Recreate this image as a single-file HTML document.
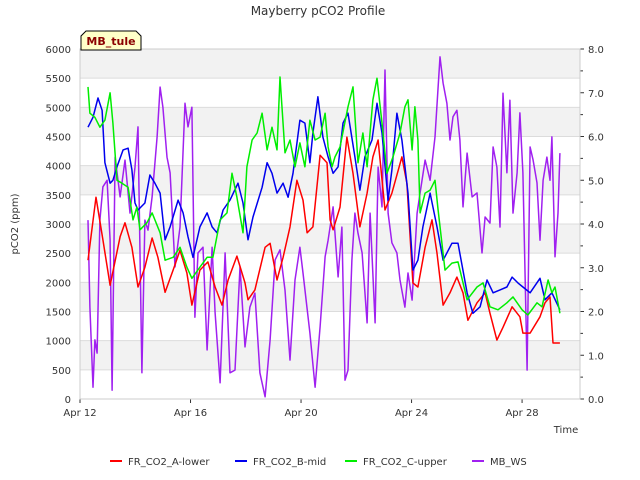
<!DOCTYPE html>
<html><head><meta charset="utf-8"><style>
body{margin:0;background:#fff;}
svg{display:block;font-family:"DejaVu Sans","Liberation Sans",sans-serif;}
</style></head><body>
<svg id="chart" width="640" height="480" viewBox="0 0 640 480">
<text x="318" y="15" text-anchor="middle" font-size="12" fill="#333">Mayberry pCO2 Profile</text>
<g id="bands"></g>
<g id="axes"></g>
<g id="series"></g>
<g>
<path d="M81,50 L81,36 L86,31 L136,31 L141,36 L141,50 Z" fill="#ffffc8" stroke="#000" stroke-width="1"/>
<text x="111" y="45" text-anchor="middle" font-size="11" font-weight="bold" fill="#8b0000">MB_tule</text>
</g>
<text transform="translate(18,224) rotate(-90)" text-anchor="middle" font-size="10" fill="#333">pCO2 (ppm)</text>
<text x="566" y="433" text-anchor="middle" font-size="10" fill="#333">Time</text>
<g id="legend"></g>
</svg>
<script>
const xTickLabels=["Apr 12","Apr 16","Apr 20","Apr 24","Apr 28"];
const xTickDays=[0,4,8,12,16];
const yTicks=[0,500,1000,1500,2000,2500,3000,3500,4000,4500,5000,5500,6000];
const y2Ticks=[0,1,2,3,4,5,6,7,8];
const seriesNames=["FR_CO2_A-lower","FR_CO2_B-mid","FR_CO2_C-upper","MB_WS"];
const seriesColors=["#ff0000","#0000ee","#00ee00","#a020f0"];

const tA=[0.29,0.58,0.83,1.09,1.45,1.63,1.88,2.10,2.35,2.61,2.82,3.08,3.37,3.62,3.87,4.05,4.34,4.63,4.89,5.14,5.36,5.68,5.97,6.08,6.33,6.70,6.88,7.13,7.35,7.60,7.85,8.07,8.22,8.43,8.69,8.94,9.05,9.16,9.41,9.66,9.88,10.13,10.39,10.60,10.79,11.04,11.29,11.65,11.83,12.05,12.23,12.49,12.74,12.92,13.14,13.39,13.64,13.86,14.04,14.37,14.66,14.84,15.09,15.31,15.64,15.92,16.03,16.29,16.65,16.83,17.01,17.12,17.37];
const vA=[2380,3460,2730,1950,2780,3020,2600,1920,2260,2760,2430,1830,2210,2550,2160,1610,2210,2350,1920,1610,2040,2450,1990,1700,1870,2600,2670,2040,2430,2950,3750,3410,2850,2950,4180,4050,3070,2900,3290,4490,3870,2950,3530,4150,4440,3240,3530,4150,3700,1990,1920,2600,3070,2500,1610,1820,2090,1820,1350,1650,1820,1470,1010,1230,1580,1410,1130,1130,1410,1650,1750,960,960];

const tB=[0.29,0.47,0.65,0.80,0.90,1.09,1.19,1.34,1.56,1.74,1.88,1.99,2.10,2.35,2.53,2.71,2.90,3.08,3.26,3.55,3.73,3.91,4.09,4.34,4.60,4.78,4.96,5.18,5.43,5.72,5.90,6.08,6.26,6.59,6.77,6.95,7.13,7.35,7.53,7.71,7.96,8.14,8.32,8.43,8.61,8.79,8.98,9.16,9.34,9.52,9.70,9.95,10.13,10.31,10.57,10.75,10.93,11.15,11.29,11.47,11.65,11.87,12.05,12.23,12.41,12.67,12.92,13.14,13.46,13.68,14.01,14.22,14.48,14.73,14.95,15.20,15.45,15.64,15.85,16.03,16.29,16.65,16.83,17.08,17.37];
const vB=[4660,4830,5160,4950,4050,3700,3750,3980,4270,4300,3930,3360,3240,3360,3840,3700,3530,2730,2950,3410,3190,2780,2430,2950,3190,2950,2850,3240,3410,3700,3360,2730,3120,3630,4050,3870,3530,3700,3460,3870,4780,4730,4050,4560,5180,4490,4150,3870,3980,4730,4900,4150,3580,4150,4440,5070,4560,3410,3930,4900,4440,3530,2210,2380,2950,3530,2950,2380,2670,2670,1820,1470,1580,2040,1820,1870,1920,2090,1990,1920,1820,2070,1700,1820,1530];

const tC=[0.29,0.36,0.54,0.72,0.90,1.09,1.19,1.34,1.52,1.74,1.92,2.06,2.17,2.42,2.61,2.90,3.08,3.37,3.62,3.87,4.05,4.34,4.60,4.81,5.07,5.32,5.50,5.68,5.90,6.04,6.23,6.41,6.59,6.77,6.95,7.13,7.24,7.42,7.60,7.78,7.96,8.14,8.32,8.51,8.69,8.87,8.98,9.12,9.23,9.41,9.70,9.88,10.06,10.24,10.39,10.60,10.75,10.93,11.11,11.33,11.58,11.76,11.87,12.02,12.12,12.23,12.31,12.49,12.67,12.85,12.96,13.21,13.46,13.68,14.01,14.37,14.59,14.84,15.13,15.45,15.67,16.00,16.21,16.54,16.72,16.94,17.08,17.19,17.37];
const vC=[5350,4900,4830,4660,4780,5250,4730,3750,3700,3630,3070,3290,2900,3020,3190,2850,2380,2430,2600,2260,2070,2260,2430,2430,3070,3190,3870,3460,2850,3980,4440,4560,4900,4270,4660,4270,5520,4220,4440,3980,4390,3980,4780,4440,4490,4900,4320,3980,4150,4320,5010,5350,4050,4560,3980,5130,5500,4730,3870,4150,4560,5010,5130,4270,5010,4440,3190,3530,3580,3750,3240,2210,2330,2350,1700,1920,1990,1580,1530,1650,1750,1530,1440,1650,1580,2040,1820,1920,1470];

const tW=[0.29,0.36,0.47,0.54,0.62,0.72,0.83,0.98,1.09,1.16,1.27,1.45,1.63,1.81,1.99,2.10,2.24,2.35,2.46,2.61,2.79,2.90,3.00,3.15,3.26,3.44,3.62,3.80,3.91,4.05,4.16,4.27,4.45,4.60,4.78,4.89,5.07,5.25,5.43,5.61,5.79,5.97,6.15,6.33,6.51,6.70,6.88,7.06,7.24,7.42,7.60,7.78,7.96,8.07,8.32,8.51,8.69,8.87,8.98,9.16,9.34,9.48,9.59,9.70,9.84,9.95,10.06,10.21,10.39,10.50,10.68,10.79,10.93,11.04,11.15,11.29,11.47,11.58,11.76,11.87,12.02,12.20,12.31,12.49,12.67,12.85,13.03,13.14,13.28,13.39,13.50,13.64,13.75,13.86,14.01,14.19,14.37,14.55,14.66,14.84,14.95,15.09,15.20,15.31,15.45,15.56,15.67,15.82,15.92,16.03,16.18,16.29,16.40,16.54,16.65,16.76,16.90,17.01,17.08,17.19,17.30,17.37];
const vW=[4.09,2.10,0.27,1.35,1.05,4.09,4.85,5.00,3.63,0.20,5.53,4.62,5.46,4.25,5.30,6.22,0.60,4.09,3.86,4.62,5.99,7.13,6.67,5.53,5.17,3.02,3.93,6.76,6.22,6.67,1.87,3.34,3.47,1.12,3.47,1.97,0.37,3.34,0.60,0.66,3.02,1.19,2.10,2.42,0.60,0.05,1.35,3.18,3.41,2.49,0.89,2.72,3.47,2.88,1.51,0.27,1.65,3.25,3.63,4.39,2.79,3.93,0.43,0.66,3.18,4.25,3.79,3.34,1.74,4.25,1.74,5.30,4.39,7.52,4.25,3.57,3.34,2.72,2.10,2.88,2.26,4.25,4.71,5.46,5.00,5.99,7.82,7.22,6.76,5.92,6.45,6.60,5.92,4.39,5.62,4.62,4.71,3.34,4.16,4.02,5.76,5.30,3.93,6.99,5.17,6.83,4.25,5.17,6.54,5.17,0.66,5.76,5.46,4.94,3.63,5.00,5.53,5.00,5.99,3.25,4.25,5.62];

const NS="http://www.w3.org/2000/svg";
const L=80,R=580,T=49,B=399;
const xs=d=>L+d*27.63;
const ys=v=>B-(v/6000)*(B-T);
const ys2=v=>B-(v/8)*(B-T);
function mk(tag,attrs,parent){const e=document.createElementNS(NS,tag);for(const k in attrs)e.setAttribute(k,attrs[k]);parent.appendChild(e);return e;}
const bands=document.getElementById('bands'),axes=document.getElementById('axes'),ser=document.getElementById('series'),leg=document.getElementById('legend');
mk('rect',{x:L,y:T,width:R-L,height:B-T,fill:'#fff'},bands);
for(let i=0;i<yTicks.length-1;i++){
  if(i%2===1){const r=mk('rect',{x:L,y:ys(yTicks[i+1]),width:R-L,height:ys(yTicks[i])-ys(yTicks[i+1]),fill:'#f2f2f2'},bands);
  
  }
}
yTicks.forEach(v=>{
  const y=ys(v);
  mk('line',{x1:L,x2:R,y1:y,y2:y,stroke:'#dcdcdc','stroke-width':1},bands);
  const t=mk('text',{x:71,y:y+4,'text-anchor':'end','font-size':10,fill:'#333'},axes);t.textContent=v;
  
  
});
y2Ticks.forEach(v=>{
  const y=ys2(v);
  mk('line',{x1:R,x2:R+4,y1:y,y2:y,stroke:'#333'},axes);
  if(v<8)mk('line',{x1:R,x2:R+3,y1:ys2(v+0.5),y2:ys2(v+0.5),stroke:'#333'},axes);
  const t=mk('text',{x:588,y:y+4,'font-size':10,fill:'#333'},axes);t.textContent=v.toFixed(1);
  
  
});
xTickDays.forEach((d,i)=>{
  const x=xs(d);
  mk('line',{x1:x,x2:x,y1:B,y2:B+4,stroke:'#333'},axes);
  const t=mk('text',{x:x,y:416,'text-anchor':'middle','font-size':10,fill:'#333'},axes);t.textContent=xTickLabels[i];
  
  
});
mk('rect',{x:L,y:T,width:R-L,height:B-T,fill:'none',stroke:'#ccc'},axes);
const all=[[tA,vA,ys],[tB,vB,ys],[tC,vC,ys],[tW,vW,ys2]];
const order=[3,0,1,2];
order.forEach(i=>{
  const [t,v,f]=all[i];
  const p=mk('polyline',{points:t.map((d,j)=>xs(d).toFixed(1)+','+f(v[j]).toFixed(1)).join(' '),fill:'none',stroke:seriesColors[i],'stroke-width':1.5,'stroke-linejoin':'round'},ser);
  
  
});
const legX=[110,235,345,472];
seriesNames.forEach((n,i)=>{
  const g=mk('g',{},leg);
  
  
  mk('line',{x1:legX[i],x2:legX[i]+12,y1:461,y2:461,stroke:seriesColors[i],'stroke-width':2},g);
  const t=mk('text',{x:legX[i]+18,y:465,'font-size':10,fill:'#333'},g);t.textContent=n;
});
</script>
</body></html>
